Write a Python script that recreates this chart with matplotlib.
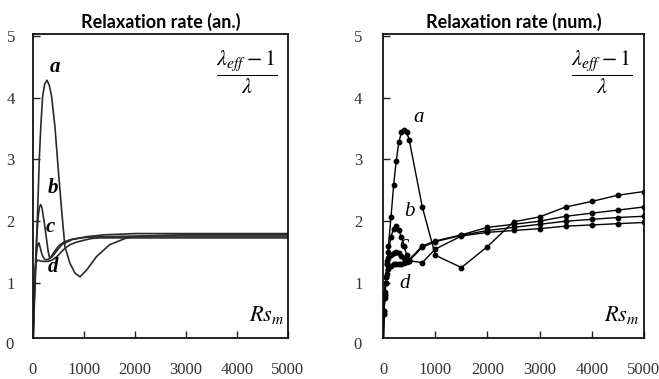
import matplotlib.pyplot as plt
import numpy as np

# analytical curves (left panel)
an_a_x = [0, 20, 40, 60, 85, 105, 124, 155, 190, 230, 275, 320, 366, 431, 497, 562, 627, 725, 824, 922,
          1052, 1248, 1504, 1837, 2100, 2500, 3000, 4000, 5000]
an_a_y = [0, 0.5, 0.9, 1.4, 2.02, 2.5, 3.0, 3.55, 4.02, 4.22, 4.28, 4.2, 4.02, 3.53, 2.83, 2.18, 1.59, 1.32,
          1.16, 1.1, 1.21, 1.43, 1.62, 1.73, 1.76, 1.77, 1.78, 1.78, 1.78]
an_b_x = [0, 20, 40, 60, 80, 100, 125, 150, 175, 203, 235, 268, 300, 330, 370, 431, 562, 758, 1052, 1400,
          2000, 3000, 5000]
an_b_y = [0, 0.6, 1.1, 1.5, 1.8, 2.05, 2.22, 2.27, 2.22, 2.08, 1.9, 1.7, 1.5, 1.4, 1.42, 1.48, 1.62, 1.7,
          1.75, 1.78, 1.8, 1.8, 1.8]
an_c_x = [0, 20, 40, 60, 80, 100, 118, 140, 170, 200, 235, 300, 350, 399, 465, 530, 625, 725, 850, 1052,
          1400, 2000, 3000, 5000]
an_c_y = [0, 0.6, 1.1, 1.4, 1.56, 1.63, 1.65, 1.58, 1.48, 1.42, 1.38, 1.38, 1.42, 1.48, 1.56, 1.62, 1.67,
          1.7, 1.72, 1.74, 1.75, 1.76, 1.76, 1.76]
an_d_x = [0, 20, 40, 60, 90, 137, 200, 300, 370, 431, 497, 562, 640, 725, 850, 987, 1150, 1300, 1600,
          2000, 3000, 5000]
an_d_y = [0, 0.7, 1.2, 1.33, 1.37, 1.36, 1.35, 1.35, 1.37, 1.4, 1.45, 1.51, 1.57, 1.62, 1.66, 1.69, 1.72,
          1.73, 1.73, 1.73, 1.73, 1.73]

# numerical curves (right panel)
num_x = [0, 15, 30, 50, 75, 100, 150, 200, 250, 300, 350, 400, 450, 500, 750, 1000, 1500, 2000, 2500,
         3000, 3500, 4000, 4500, 5000]
num_a = [0, 0.55, 0.75, 1.0, 1.3, 1.6, 2.07, 2.58, 2.98, 3.28, 3.44, 3.48, 3.44, 3.31, 2.23, 1.45, 1.25,
         1.59, 1.99, 2.07, 2.23, 2.32, 2.42, 2.48]
num_b = [0, 0.5, 0.8, 1.1, 1.35, 1.5, 1.75, 1.88, 1.93, 1.85, 1.75, 1.6, 1.45, 1.38, 1.6, 1.68, 1.78,
         1.9, 1.95, 2.0, 2.08, 2.13, 2.18, 2.23]
num_c = [0, 0.55, 0.85, 1.1, 1.3, 1.4, 1.45, 1.48, 1.5, 1.48, 1.44, 1.4, 1.37, 1.36, 1.58, 1.67, 1.77,
         1.85, 1.9, 1.95, 2.0, 2.03, 2.06, 2.08]
num_d = [0, 0.5, 0.8, 1.0, 1.15, 1.22, 1.27, 1.3, 1.3, 1.3, 1.31, 1.32, 1.34, 1.36, 1.33, 1.55, 1.76,
         1.82, 1.85, 1.88, 1.92, 1.94, 1.96, 1.98]

letters = ['a', 'b', 'c', 'd']
an_lab_xy = [(431, 4.5), (399, 2.53), (333, 1.91), (399, 1.26)]
num_lab_xy = [(677, 3.67), (497, 2.16), (400, 1.62), (420, 1.0)]

plt.rcParams['mathtext.fontset'] = 'stix'
tickfont = 'Liberation Serif'

fig = plt.figure(figsize=(6.59, 3.79), dpi=100)
ax1 = fig.add_axes([0.050, 0.108, 0.387, 0.801])
ax2 = fig.add_axes([0.5815, 0.108, 0.3955, 0.801])

for xs, ys in [(an_a_x, an_a_y), (an_b_x, an_b_y), (an_c_x, an_c_y), (an_d_x, an_d_y)]:
    ax1.plot(xs, ys, color='#2a2a2a', lw=1.2)
for ys in [num_a, num_b, num_c, num_d]:
    ax2.plot(num_x, ys, color='black', lw=1.0, marker='o', ms=3.2)

for ax, title, labs, bold, ypad in [(ax1, 'Relaxation rate (an.)', an_lab_xy, 'bold', 13),
                                    (ax2, 'Relaxation rate (num.)', num_lab_xy, 'normal', 15)]:
    ax.set_xlim(0, 5000)
    ax.set_ylim(0.11, 5.02)
    ax.set_xticks([0, 1000, 2000, 3000, 4000, 5000])
    ax.set_yticks([1, 2, 3, 4, 5])
    ax.tick_params(direction='in', length=5, width=1, color='#222')
    ax.tick_params(axis='x', pad=17)
    ax.tick_params(axis='y', pad=ypad)
    for lab in ax.get_xticklabels() + ax.get_yticklabels():
        lab.set_family(tickfont)
        lab.set_fontsize(12)
        lab.set_color('#333')
    # the "0" of the y axis sits just below the frame
    xoff = -(ypad / 72 * 100 + 1) / (ax.get_position().width * 659)
    ax.text(xoff, 0, '0', transform=ax.get_yaxis_transform(), ha='right', va='center',
            fontsize=12, family=tickfont, color='#333', clip_on=False)
    for sp in ax.spines.values():
        sp.set_linewidth(1.3)
        sp.set_color('#111')
    ax.set_title(title, fontsize=13, family='Lato', weight='bold', pad=5)
    ax.text(0.84, 0.875, r'$\dfrac{\lambda_{eff}-1}{\lambda}$', transform=ax.transAxes,
            ha='center', va='center', fontsize=16)
    ax.text(0.985, 0.075, r'$Rs_m$', transform=ax.transAxes, ha='right', va='center', fontsize=16)
    for t, (lx, ly) in zip(letters, labs):
        ax.text(lx, ly, t, ha='center', va='center', fontsize=15, family='Liberation Serif',
                style='italic', weight=bold)

plt.savefig('out.png', dpi=100)
